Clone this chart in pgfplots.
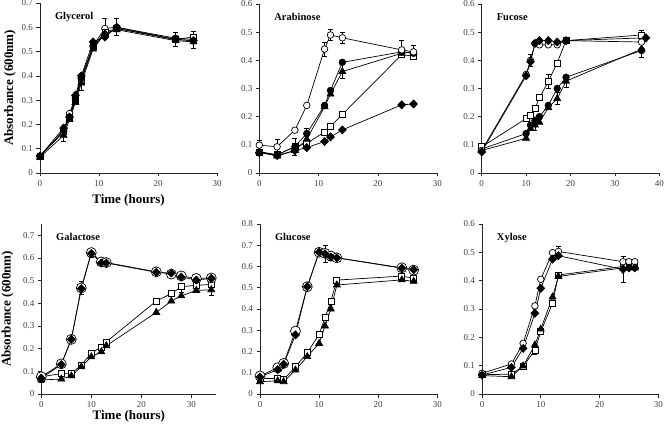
\documentclass[border=0pt]{standalone}
\usepackage{fontspec}
\setmainfont{Liberation Serif}
\usepackage{pgfplots}
\pgfplotsset{compat=1.18}

\pgfplotsset{
  panel/.style={
    scale only axis, anchor=south west,
    xmin=0, ymin=0,
    axis lines*=left, axis line style={-, black!85, line width=0.6pt},
    tick align=outside, major tick length=3.5pt,
    tick style={black!85, line width=0.6pt},
    ticklabel style={font=\fontsize{9}{10}\selectfont, text=black!75},
    /pgf/number format/assume math mode=true,
    yticklabel style={/pgf/number format/fixed, /pgf/number format/precision=1},
    ytick distance=0.1, xtick distance=10,
    clip=false,
    xlabel style={font=\bfseries\fontsize{13}{15}\selectfont, anchor=center},
    ylabel style={font=\bfseries\fontsize{13}{15}\selectfont, anchor=center},
  },
  oc/.style={black, line width=0.7pt, mark=*, mark size=3.3pt, mark options={fill=white, solid}},
  bigoc/.style={black, line width=0.7pt, mark=*, mark size=5pt, mark options={fill=white, solid}},
  fc/.style={black, line width=0.7pt, mark=*, mark size=3.3pt, mark options={fill=black, solid}},
  tri/.style={black, line width=0.7pt, mark=triangle*, mark size=4pt, mark options={fill=black, solid}},
  sq/.style={black, line width=0.7pt, mark=square*, mark size=3pt, mark options={fill=white, solid}},
  dia/.style={black, line width=0.7pt, mark=diamond*, mark size=4pt, mark options={fill=black, solid, xscale=1.3}},
  eb/.style={draw=none, mark=none, forget plot,
    error bars/.cd, y dir=both, y explicit,
    error bar style={draw=black, line width=0.6pt, solid},
    error mark options={rotate=90, draw=black, mark size=2.5pt, line width=0.6pt}},
}
\tikzset{ttl/.style={anchor=north west, font=\bfseries\fontsize{10.5}{12}\selectfont}}

\begin{document}
\begin{tikzpicture}
\path[use as bounding box] (0,0) rectangle (664pt,-430pt);

% ---------- Glycerol ----------
\begin{axis}[panel, at={(40pt,-173pt)}, width=177pt, height=170pt,
  xmax=30, ymax=0.7,
  xlabel={Time (hours)}, xlabel style={at={(axis description cs:0.5,-0.16)}},
  ylabel={Absorbance (600nm)}, ylabel style={at={(axis description cs:-0.17,0.5)}},
  every axis plot/.append style={line width=1.1pt}]
\addplot[eb] coordinates {(4,0.155) +- (0,0.025) (7,0.37) +- (0,0.03) (11,0.595) +- (0,0.04)
  (13,0.6) +- (0,0.035) (23,0.55) +- (0,0.03) (26,0.55) +- (0,0.035) (26,0.56) +- (0,0.025)};
\addplot[oc] coordinates {(0,0.07) (4,0.17) (5,0.245) (6,0.31) (7,0.39) (9,0.525) (11,0.595) (13,0.60) (23,0.555) (26,0.55)};
\addplot[sq] coordinates {(0,0.07) (4,0.17) (5,0.23) (6,0.30) (7,0.38) (9,0.52) (11,0.58) (13,0.595) (23,0.55) (26,0.56)};
\addplot[tri] coordinates {(0,0.065) (4,0.155) (5,0.22) (6,0.29) (7,0.37) (9,0.51) (11,0.575) (13,0.59) (23,0.545) (26,0.54)};
\addplot[fc] coordinates {(0,0.07) (4,0.175) (5,0.23) (6,0.30) (7,0.39) (9,0.52) (11,0.57) (13,0.595) (23,0.55) (26,0.545)};
\addplot[dia] coordinates {(0,0.07) (4,0.185) (5,0.23) (6,0.32) (7,0.40) (9,0.54) (11,0.56) (13,0.60) (23,0.55) (26,0.545)};
\node[ttl] at (rel axis cs:0.065,0.965) {Glycerol};
\end{axis}

% ---------- Arabinose ----------
\begin{axis}[panel, at={(259.3pt,-173pt)}, width=178pt, height=169pt,
  xmax=30, ymax=0.6]
\addplot[eb] coordinates {(0,0.10) +- (0,0.015) (3,0.094) +- (0,0.025) (6,0.094) +- (0,0.03)
  (8,0.14) +- (0,0.02) (11,0.44) +- (0,0.025) (12,0.49) +- (0,0.02) (14,0.48) +- (0,0.02)
  (14,0.36) +- (0,0.025) (24,0.44) +- (0,0.03) (26,0.43) +- (0,0.025)};
\addplot[sq] coordinates {(0,0.075) (3,0.065) (6,0.093) (8,0.105) (11,0.146) (12,0.166) (14,0.208) (24,0.42) (26,0.415)};
\addplot[dia] coordinates {(0,0.072) (3,0.062) (6,0.08) (8,0.09) (11,0.112) (12,0.128) (14,0.153) (24,0.242) (26,0.245)};
\addplot[tri] coordinates {(0,0.075) (3,0.06) (6,0.08) (8,0.12) (11,0.235) (12,0.28) (14,0.36) (24,0.425) (26,0.43)};
\addplot[fc] coordinates {(0,0.075) (3,0.064) (6,0.094) (8,0.14) (11,0.24) (12,0.293) (14,0.393) (24,0.43) (26,0.425)};
\addplot[oc] coordinates {(0,0.099) (3,0.093) (6,0.152) (8,0.24) (11,0.44) (12,0.49) (14,0.48) (24,0.437) (26,0.43)};
\node[ttl] at (rel axis cs:0.065,0.965) {Arabinose};
\end{axis}

% ---------- Fucose ----------
\begin{axis}[panel, at={(481.7pt,-173pt)}, width=177.6pt, height=169pt,
  xmax=40, ymax=0.6]
\addplot[eb] coordinates {(11,0.40) +- (0,0.02) (15,0.325) +- (0,0.025) (17,0.265) +- (0,0.02)
  (19,0.326) +- (0,0.02) (36,0.435) +- (0,0.025) (36,0.49) +- (0,0.015) (12,0.17) +- (0,0.02)};
\addplot[tri] coordinates {(0,0.08) (10,0.123) (11,0.158) (12,0.17) (13,0.18) (15,0.232) (17,0.264) (19,0.326) (36,0.44)};
\addplot[fc] coordinates {(0,0.085) (10,0.14) (11,0.17) (12,0.187) (13,0.20) (15,0.24) (17,0.30) (19,0.34) (36,0.435)};
\addplot[sq] coordinates {(0,0.093) (10,0.193) (11,0.205) (12,0.229) (13,0.267) (15,0.325) (17,0.391) (19,0.47) (36,0.49)};
\addplot[oc] coordinates {(0,0.08) (10,0.35) (11,0.40) (12,0.46) (13,0.455) (15,0.455) (17,0.455) (19,0.47) (36,0.465)};
\addplot[dia] coordinates {(0,0.075) (10,0.345) (11,0.395) (12,0.46) (13,0.47) (15,0.47) (17,0.465) (19,0.47) (37,0.48)};
\node[ttl] at (rel axis cs:0.065,0.965) {Fucose};
\end{axis}

% ---------- Galactose ----------
\begin{axis}[panel, at={(41.3pt,-394pt)}, width=175pt, height=170pt,
  xmax=35, ymax=0.75,
  xlabel={Time (hours)}, xlabel style={at={(axis description cs:0.5,-0.13)}},
  ylabel={Absorbance (600nm)}, ylabel style={at={(axis description cs:-0.193,0.5)}}]
\addplot[eb] coordinates {(0,0.07) +- (0,0.02) (8,0.468) +- (0,0.03) (10,0.624) +- (0,0.02)
  (28,0.47) +- (0,0.02) (34,0.46) +- (0,0.025)};
\addplot[sq] coordinates {(0,0.076) (4,0.09) (6,0.09) (8,0.128) (10,0.18) (12,0.208) (13,0.23) (23,0.41) (26,0.443) (28,0.473) (31,0.48) (34,0.483)};
\addplot[tri] coordinates {(0,0.062) (4,0.066) (6,0.08) (8,0.12) (10,0.164) (12,0.186) (13,0.213) (23,0.36) (26,0.41) (28,0.433) (31,0.457) (34,0.46)};
\addplot[bigoc] coordinates {(0,0.076) (4,0.133) (6,0.241) (8,0.468) (10,0.624) (12,0.583) (13,0.58) (23,0.539) (26,0.529) (28,0.521) (31,0.51) (34,0.512)};
\addplot[dia] coordinates {(0,0.07) (4,0.13) (6,0.241) (8,0.465) (10,0.62) (12,0.578) (13,0.578) (23,0.537) (26,0.533) (28,0.516) (31,0.503) (34,0.51)};
\node[ttl] at (rel axis cs:0.065,0.965) {Galactose};
\end{axis}

% ---------- Glucose ----------
\begin{axis}[panel, at={(260pt,-394pt)}, width=177.3pt, height=170pt,
  xmax=30, ymax=0.8]
\addplot[eb] coordinates {(11,0.662) +- (0,0.04) (12,0.65) +- (0,0.02)};
\addplot[sq] coordinates {(0,0.074) (3,0.072) (4,0.068) (6,0.128) (8,0.194) (10,0.281) (11,0.36) (12,0.438) (13,0.536) (24,0.555) (26,0.544)};
\addplot[tri] coordinates {(0,0.058) (3,0.062) (4,0.058) (6,0.113) (8,0.176) (10,0.238) (11,0.32) (12,0.40) (13,0.513) (24,0.537) (26,0.53)};
\addplot[bigoc] coordinates {(0,0.085) (3,0.124) (4,0.144) (6,0.296) (8,0.505) (10,0.667) (11,0.662) (12,0.649) (13,0.641) (24,0.594) (26,0.583)};
\addplot[dia] coordinates {(0,0.08) (3,0.115) (4,0.14) (6,0.278) (8,0.505) (10,0.667) (11,0.66) (12,0.645) (13,0.641) (24,0.592) (26,0.585)};
\node[ttl] at (rel axis cs:0.065,0.965) {Glucose};
\end{axis}

% ---------- Xylose ----------
\begin{axis}[panel, at={(482pt,-394pt)}, width=176.3pt, height=170pt,
  xmax=30, ymax=0.6]
\addplot[eb] coordinates {(9,0.155) +- (0,0.015) (13,0.503) +- (0,0.02) (24,0.44) +- (0,0.045)};
\addplot[sq] coordinates {(0,0.068) (5,0.07) (7,0.097) (9,0.155) (10,0.22) (12,0.32) (13,0.42) (24,0.45) (25,0.455) (26,0.45)};
\addplot[tri] coordinates {(0,0.065) (5,0.061) (7,0.099) (9,0.173) (10,0.229) (12,0.342) (13,0.415) (24,0.445) (25,0.45) (26,0.445)};
\addplot[oc] coordinates {(0,0.073) (5,0.106) (7,0.179) (9,0.311) (10,0.405) (12,0.499) (13,0.503) (24,0.467) (25,0.467) (26,0.467)};
\addplot[dia] coordinates {(0,0.067) (5,0.094) (7,0.161) (9,0.285) (10,0.373) (12,0.476) (13,0.488) (24,0.44) (25,0.445) (26,0.445)};
\node[ttl] at (rel axis cs:0.065,0.965) {Xylose};
\end{axis}
\end{tikzpicture}
\end{document}
